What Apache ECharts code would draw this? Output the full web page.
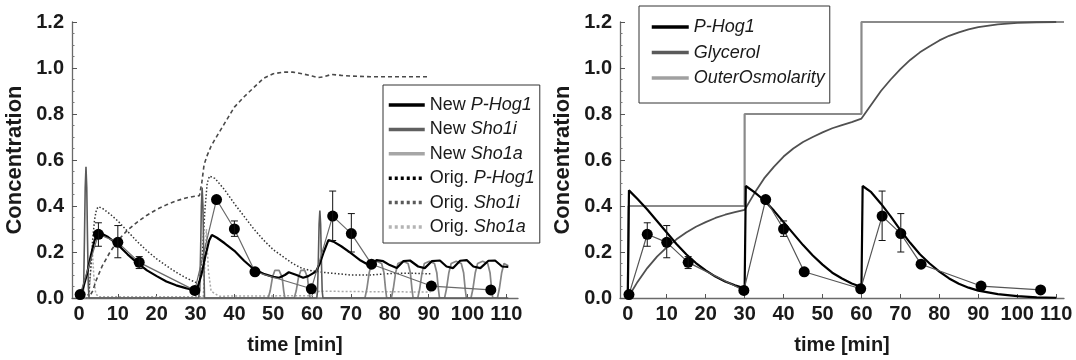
<!DOCTYPE html>
<html><head><meta charset="utf-8">
<script src="https://cdn.jsdelivr.net/npm/echarts@6/dist/echarts.min.js"></script>
<style>html,body{margin:0;padding:0;background:#fff}#c{width:1076px;height:360px}</style>
</head><body><div id="c"></div>
<script>
// ---------- tick labels ----------
const xTicks = [0, 10, 20, 30, 40, 50, 60, 70, 80, 90, 100, 110];

// ---------- measured data (both panels) ----------
const dataT = [0.3, 5, 10, 15.5, 29.8, 35.4, 40, 45.3, 59.8, 65.3, 70.1, 75.3, 90.7, 106];
const dataV = [0.015, 0.277, 0.242, 0.155, 0.033, 0.428, 0.3, 0.114, 0.04, 0.356, 0.28, 0.147, 0.052, 0.035];
const errLo = [null, 0.225, 0.175, 0.128, null, null, 0.268, null, null, 0.25, 0.2, null, null, null];
const errHi = [null, 0.327, 0.315, 0.18, null, null, 0.335, null, null, 0.465, 0.367, null, null, null];

// ---------- left panel: new model ----------
const newHogT = [0, 1, 2, 3, 4, 4.8, 5.5, 7.5, 10, 12.5, 15, 17.5, 20, 22.5, 25, 27.5, 29.5, 30.5, 31.5, 32.5, 33.5, 34.2, 35.5, 37.5, 40, 42.5, 45, 47.5, 50, 51.5, 53, 54, 56, 57.7, 59, 60, 61, 62, 63, 64.2, 65.5, 67.5, 70, 72.5, 74.9, 76.6, 78.3, 80, 81.8, 83.5, 85.2, 87.3, 89, 90.8, 92.9, 94.6, 96.3, 98.1, 99.8, 101.5, 103.3, 105.4, 107.1, 108.9, 110.5];
const newHogV = [0.012, 0.04, 0.1, 0.18, 0.25, 0.28, 0.283, 0.265, 0.232, 0.19, 0.153, 0.12, 0.095, 0.072, 0.055, 0.043, 0.035, 0.045, 0.1, 0.18, 0.25, 0.274, 0.262, 0.238, 0.205, 0.162, 0.125, 0.105, 0.092, 0.088, 0.1, 0.112, 0.1, 0.088, 0.095, 0.105, 0.115, 0.15, 0.2, 0.252, 0.245, 0.225, 0.195, 0.163, 0.14, 0.165, 0.16, 0.143, 0.13, 0.16, 0.163, 0.137, 0.13, 0.16, 0.163, 0.137, 0.13, 0.162, 0.165, 0.137, 0.13, 0.162, 0.163, 0.137, 0.135];

const newSho1iT = [0, 1.0, 1.2, 1.4, 1.6, 1.8, 2.0, 2.2, 2.4, 2.6, 30.8, 31.1, 31.3, 31.5, 31.7, 31.9, 32.1, 32.3, 61.2, 61.4, 61.6, 61.8, 62.0, 62.2, 62.4, 62.6, 62.8, 110.5];
const newSho1iV = [0, 0, 0.05, 0.25, 0.48, 0.57, 0.48, 0.25, 0.05, 0, 0, 0.04, 0.2, 0.4, 0.48, 0.4, 0.2, 0, 0, 0.03, 0.16, 0.32, 0.38, 0.32, 0.16, 0.03, 0, 0];

const newSho1aT = [0, 48.7, 49.2, 49.8, 50.4, 51.5, 52.3, 52.7, 53, 55.4, 55.9, 56.5, 57.1, 58.1, 58.8, 59.2, 59.5, 73.6, 74.1, 74.7, 75.3, 76.6, 77.9, 78.5, 78.9, 79.2, 80.4, 80.9, 81.5, 82.1, 83.4, 84.7, 85.3, 85.7, 86, 87.2, 87.7, 88.3, 88.9, 90.2, 91.5, 92.1, 92.5, 92.8, 94.1, 94.6, 95.2, 95.8, 97.1, 98.4, 99, 99.4, 99.7, 100.9, 101.4, 102, 102.6, 103.9, 105.2, 105.8, 106.2, 106.5, 107.7, 108.2, 108.8, 109.4, 110.5];
const newSho1aV = [0, 0, 0.03, 0.09, 0.12, 0.12, 0.09, 0.03, 0, 0, 0.03, 0.09, 0.12, 0.12, 0.09, 0.03, 0, 0, 0.04, 0.11, 0.15, 0.16, 0.15, 0.11, 0.04, 0, 0, 0.04, 0.11, 0.15, 0.16, 0.15, 0.11, 0.04, 0, 0, 0.04, 0.11, 0.15, 0.16, 0.15, 0.11, 0.04, 0, 0, 0.04, 0.11, 0.15, 0.16, 0.15, 0.11, 0.04, 0, 0, 0.04, 0.11, 0.15, 0.16, 0.15, 0.11, 0.04, 0, 0, 0.04, 0.11, 0.15, 0.14];

// ---------- left panel: original model ----------
const origHogT = [0, 2, 2.5, 3, 3.5, 4, 4.5, 5, 6, 8, 10, 12.5, 15, 17.5, 20, 22.5, 25, 27.5, 30, 31, 31.8, 32.4, 33, 33.6, 35, 37.5, 40, 42.5, 45, 47.5, 50, 52.5, 55, 57.5, 60, 62, 65, 70, 75, 80, 85, 90.5];
const origHogV = [0, 0, 0.02, 0.12, 0.25, 0.34, 0.385, 0.397, 0.39, 0.365, 0.335, 0.29, 0.245, 0.205, 0.17, 0.14, 0.112, 0.088, 0.068, 0.07, 0.2, 0.38, 0.5, 0.53, 0.52, 0.47, 0.41, 0.355, 0.3, 0.252, 0.21, 0.18, 0.15, 0.128, 0.118, 0.113, 0.108, 0.1, 0.1, 0.106, 0.108, 0.105];

const origSho1iT = [0, 2.5, 3.5, 4.5, 6, 8, 10, 12.5, 15, 17.5, 20, 22.5, 25, 27.5, 30, 31, 31.6, 32.2, 33, 34, 35, 37.5, 40, 42.5, 45, 47.5, 50, 52.5, 55, 57.5, 60, 61.5, 63, 65, 67.5, 70, 75, 80, 85, 90];
const origSho1iV = [0, 0, 0.03, 0.08, 0.14, 0.2, 0.25, 0.295, 0.33, 0.36, 0.385, 0.405, 0.422, 0.435, 0.443, 0.445, 0.5, 0.58, 0.62, 0.66, 0.69, 0.76, 0.83, 0.875, 0.915, 0.955, 0.975, 0.982, 0.982, 0.975, 0.965, 0.958, 0.962, 0.972, 0.968, 0.965, 0.962, 0.962, 0.962, 0.962];

const origSho1aT = [0, 2.6, 3.0, 3.4, 3.8, 4.3, 5, 30, 32, 32.4, 32.8, 33.3, 34, 36, 60, 61, 62, 70, 80, 90.5];
const origSho1aV = [0, 0, 0.12, 0.22, 0.1, 0.02, 0.005, 0.005, 0.005, 0.15, 0.3, 0.12, 0.03, 0.008, 0.01, 0.025, 0.03, 0.028, 0.027, 0.026];

// ---------- right panel ----------
const hogT = [0, 0.3, 2.5, 5, 7.5, 10, 12.5, 15, 17.5, 20, 22.5, 25, 27.5, 30, 30.3, 32.5, 35, 37.5, 40, 42.5, 45, 47.5, 50, 52.5, 55, 57.5, 60, 60.3, 62.5, 65, 67.5, 70, 72.5, 75, 77.5, 80, 82.5, 85, 87.5, 90, 95, 100, 105, 110];
const hogV = [0, 0.468, 0.43, 0.385, 0.335, 0.285, 0.235, 0.19, 0.152, 0.12, 0.093, 0.072, 0.055, 0.042, 0.487, 0.46, 0.425, 0.38, 0.33, 0.28, 0.23, 0.185, 0.145, 0.11, 0.085, 0.063, 0.048, 0.487, 0.46, 0.41, 0.355, 0.295, 0.24, 0.19, 0.15, 0.115, 0.085, 0.062, 0.045, 0.032, 0.017, 0.008, 0.003, 0.001];

const glyT = [0, 2.5, 5, 7.5, 10, 12.5, 15, 17.5, 20, 22.5, 25, 27.5, 30, 32.5, 35, 37.5, 40, 42.5, 45, 47.5, 50, 52.5, 55, 57.5, 60, 62.5, 65, 67.5, 70, 72.5, 75, 77.5, 80, 82.5, 85, 87.5, 90, 95, 100, 105, 110];
const glyV = [0, 0.07, 0.13, 0.18, 0.22, 0.255, 0.285, 0.31, 0.33, 0.348, 0.362, 0.373, 0.383, 0.455, 0.52, 0.57, 0.615, 0.65, 0.678, 0.7, 0.72, 0.738, 0.752, 0.765, 0.78, 0.84, 0.9, 0.95, 0.995, 1.035, 1.068, 1.095, 1.12, 1.14, 1.155, 1.168, 1.178, 1.19, 1.196, 1.199, 1.2];

const osmoT = [0, 0.2, 30, 30, 60, 60, 112];
const osmoV = [0, 0.4, 0.4, 0.8, 0.8, 1.2, 1.2];

// ---------- build ----------
const FONT = "'Liberation Sans', Arial, Helvetica, sans-serif";
const TXT = '#1a1a1a';
const pairs = (T, V) => T.map((t, i) => [t, V[i]]);
const errData = dataT.map((t, i) => [t, errLo[i], errHi[i]]).filter(d => d[1] !== null);

function xAxis(g, min, max) {
  return {
    gridIndex: g, type: 'value', min: min, max: max,
    axisLine: { show: true, onZero: false, lineStyle: { color: '#6a6a6a', width: 1.3 } },
    axisTick: { show: true, inside: true, length: 4, customValues: xTicks, lineStyle: { color: '#555' } },
    axisLabel: { customValues: xTicks, fontSize: 20, fontWeight: 'bold', fontFamily: FONT, color: TXT, margin: 6 },
    splitLine: { show: false },
    name: 'time [min]', nameLocation: 'middle', nameGap: 37,
    nameTextStyle: { fontSize: 20, fontWeight: 'bold', fontFamily: FONT, color: TXT }
  };
}
function yAxis(g) {
  return {
    gridIndex: g, type: 'value', min: 0, max: 1.2, interval: 0.2,
    axisLine: { show: true, onZero: false, lineStyle: { color: '#6a6a6a', width: 1.3 } },
    axisTick: { show: true, inside: true, length: 5, lineStyle: { color: '#555' } },
    minorTick: { show: true, splitNumber: 4, length: 2.5, lineStyle: { color: '#777' } },
    axisLabel: { formatter: v => v.toFixed(1), fontSize: 20, fontWeight: 'bold', fontFamily: FONT, color: TXT, margin: 8 },
    splitLine: { show: false }, minorSplitLine: { show: false },
    name: 'Concentration', nameLocation: 'middle', nameGap: 46,
    nameTextStyle: { fontSize: 22, fontWeight: 'bold', fontFamily: FONT, color: TXT }
  };
}
function line(name, g, T, V, color, width, type, z) {
  return {
    name: name, type: 'line', xAxisIndex: g, yAxisIndex: g, data: pairs(T, V),
    symbol: 'none', showSymbol: false, smooth: false, silent: true,
    lineStyle: { color: color, width: width, type: type || 'solid' },
    itemStyle: { color: color }, z: z || 2
  };
}
function dataSeries(g, color) {
  return {
    name: 'data' + g, type: 'line', xAxisIndex: g, yAxisIndex: g, data: pairs(dataT, dataV),
    symbol: 'circle', symbolSize: 11, showSymbol: true,
    lineStyle: { color: color, width: 1.2 }, itemStyle: { color: '#000' }, z: 6
  };
}
function errSeries(g) {
  return {
    type: 'custom', xAxisIndex: g, yAxisIndex: g, data: errData, z: 7,
    renderItem: (params, api) => {
      const lo = api.coord([api.value(0), api.value(1)]);
      const hi = api.coord([api.value(0), api.value(2)]);
      const st = { stroke: '#111', lineWidth: 1 };
      return { type: 'group', children: [
        { type: 'line', shape: { x1: lo[0], y1: lo[1], x2: hi[0], y2: hi[1] }, style: st },
        { type: 'line', shape: { x1: lo[0] - 3.5, y1: lo[1], x2: lo[0] + 3.5, y2: lo[1] }, style: st },
        { type: 'line', shape: { x1: hi[0] - 3.5, y1: hi[1], x2: hi[0] + 3.5, y2: hi[1] }, style: st }
      ] };
    }
  };
}
const rich = {
  n: { fontSize: 18, fontFamily: FONT, color: TXT, lineHeight: 18 },
  i: { fontSize: 18, fontFamily: FONT, color: TXT, fontStyle: 'italic', lineHeight: 18 }
};
const splitName = name => {
  const k = name.indexOf(' ');
  return '{n|' + name.slice(0, k + 1) + '}{i|' + name.slice(k + 1) + '}';
};
const hiddenSymbol = { opacity: 0, borderWidth: 0 };

const option = {
  animation: false,
  backgroundColor: '#fff',
  grid: [
    { left: 72, top: 22, width: 446, height: 276 },
    { left: 620, top: 22, width: 444, height: 276 }
  ],
  xAxis: [xAxis(0, -1.8, 113), xAxis(1, -2, 112)],
  yAxis: [yAxis(0), yAxis(1)],
  legend: [
    {
      left: 383, top: 85, orient: 'vertical', itemWidth: 36, itemHeight: 14, itemGap: 6.4,
      padding: [11, 5, 7, 4], borderColor: '#333', borderWidth: 1, backgroundColor: '#fff',
      lineStyle: { width: 3.5 }, itemStyle: hiddenSymbol, selectedMode: false,
      formatter: splitName, textStyle: { rich: rich },
      data: [
        { name: 'New P-Hog1', lineStyle: { color: '#000' } },
        { name: 'New Sho1i', lineStyle: { color: '#606060' } },
        { name: 'New Sho1a', lineStyle: { color: '#a6a6a6' } },
        { name: 'Orig. P-Hog1', lineStyle: { type: [3, 3], width: 3.5, color: '#000' } },
        { name: 'Orig. Sho1i', lineStyle: { type: [3, 3], width: 3.5, color: '#5a5a5a' } },
        { name: 'Orig. Sho1a', lineStyle: { type: [3, 3], width: 3.5, color: '#b4b4b4' } }
      ]
    },
    {
      left: 639, top: 6, orient: 'vertical', itemWidth: 37, itemHeight: 14, itemGap: 7.5,
      padding: [12, 5, 16, 11], borderColor: '#333', borderWidth: 1, backgroundColor: '#fff',
      lineStyle: { width: 3.5 }, itemStyle: hiddenSymbol, selectedMode: false,
      formatter: name => '{i|' + name + '}', textStyle: { rich: rich },
      data: [
        { name: 'P-Hog1', lineStyle: { color: '#000' } },
        { name: 'Glycerol', lineStyle: { color: '#5a5a5a' } },
        { name: 'OuterOsmolarity', lineStyle: { color: '#a0a0a0' } }
      ]
    }
  ],
  series: [
    line('Orig. Sho1a', 0, origSho1aT, origSho1aV, '#a8a8a8', 1.5, [2, 2], 1),
    line('Orig. Sho1i', 0, origSho1iT, origSho1iV, '#4a4a4a', 1.6, [4, 3], 2),
    line('Orig. P-Hog1', 0, origHogT, origHogV, '#333', 1.5, [1.5, 2], 2),
    line('New Sho1a', 0, newSho1aT, newSho1aV, '#858585', 1.7, 'solid', 3),
    line('New Sho1i', 0, newSho1iT, newSho1iV, '#5a5a5a', 1.6, 'solid', 3),
    dataSeries(0, '#6a6a6a'),
    line('New P-Hog1', 0, newHogT, newHogV, '#000', 2.2, 'solid', 5),
    errSeries(0),
    line('OuterOsmolarity', 1, osmoT, osmoV, '#8a8a8a', 2.2, 'solid', 2),
    line('Glycerol', 1, glyT, glyV, '#505050', 1.8, 'solid', 3),
    line('P-Hog1', 1, hogT, hogV, '#000', 2.2, 'solid', 4),
    dataSeries(1, '#555'),
    errSeries(1)
  ]
};
const chart = echarts.init(document.getElementById('c'), null, { renderer: 'canvas' });
chart.setOption(option);
</script>
</body></html>
